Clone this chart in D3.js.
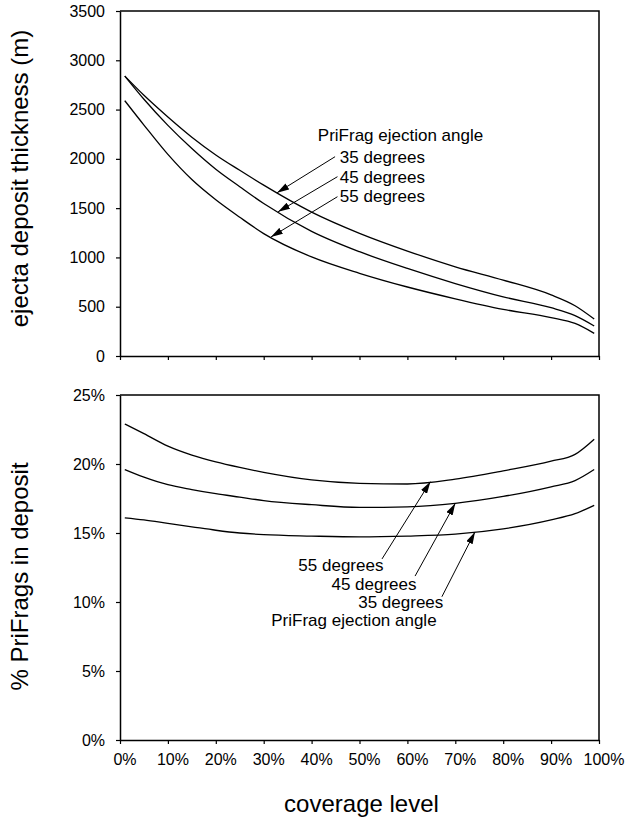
<!DOCTYPE html>
<html>
<head>
<meta charset="utf-8">
<script src="https://cdn.jsdelivr.net/npm/d3@7"></script>
<style>
  html, body { margin: 0; padding: 0; background: #fff; }
  svg { display: block; font-family: "Liberation Sans", Arial, sans-serif; }
</style>
</head>
<body>
<svg id="chart" width="628" height="817"></svg>
<script>
// Coverage levels (% of surface covered) at which both quantities are sampled
const coverage = [1, 5, 10, 15, 20, 25, 30, 40, 50, 60, 70, 80, 90, 95, 99];

// Ejecta deposit thickness (m) for each PriFrag ejection angle
const thickness35 = [2840, 2645, 2425, 2220, 2040, 1884, 1733, 1460, 1245, 1065, 905, 770, 620, 510, 375];
const thickness45 = [2840, 2605, 2340, 2105, 1895, 1718, 1547, 1265, 1058, 888, 735, 600, 490, 410, 305];
const thickness55 = [2590, 2343, 2045, 1790, 1585, 1408, 1242, 1005, 839, 700, 580, 473, 390, 330, 230];

// Share of PriFrags in the deposit (%) for each ejection angle
const share35 = [16.1, 15.95, 15.7, 15.45, 15.2, 15.0, 14.88, 14.78, 14.72, 14.78, 14.92, 15.3, 15.95, 16.4, 17.0];
const share45 = [19.6, 19.05, 18.5, 18.15, 17.85, 17.6, 17.35, 17.05, 16.85, 16.9, 17.15, 17.65, 18.35, 18.8, 19.6];
const share55 = [22.9, 22.2, 21.3, 20.65, 20.15, 19.75, 19.4, 18.85, 18.6, 18.55, 18.9, 19.5, 20.2, 20.7, 21.8];

// Tick values
const xTicks = [0, 10, 20, 30, 40, 50, 60, 70, 80, 90, 100];
const thicknessTicks = [0, 500, 1000, 1500, 2000, 2500, 3000, 3500];
const shareTicks = [0, 5, 10, 15, 20, 25];

const angleLabels = ["35 degrees", "45 degrees", "55 degrees"];
const legendTitle = "PriFrag ejection angle";

// Annotation anchors, in data units of each panel
const topLabelPos = [[45.9, 1958], [45.9, 1755], [45.9, 1562]];
const topTitlePos = [41.3, 2181];
const topArrowFrom = [[44.9, 2022], [45.4, 1819], [45.4, 1616]];
const topArrowTipCoverage = [32.8, 33.0, 31.5];

const bottomLabelPos = [[67.5, 9.57], [61.9, 10.87], [55.0, 12.25]];
const bottomTitlePos = [66.1, 8.26];
const bottomArrowFrom = [[67.2, 10.38], [61.6, 11.88], [54.7, 13.12]];
const bottomArrowTipCoverage = [74.1, 70.0, 64.8];

const svg = d3.select("#chart");
svg.append("rect").attr("width", 628).attr("height", 817).attr("fill", "#fff");

// Arrowhead
svg.append("defs").append("marker")
  .attr("id", "head")
  .attr("viewBox", "0 0 12 7")
  .attr("refX", 12).attr("refY", 3.5)
  .attr("markerWidth", 12).attr("markerHeight", 7)
  .attr("markerUnits", "userSpaceOnUse")
  .attr("orient", "auto")
  .append("path").attr("d", "M0,0 L12,3.5 L0,7 Z").attr("fill", "#000");

const left = 120, right = 599;
const x = d3.scaleLinear().domain([0, 100]).range([left, right]);
const yTop = d3.scaleLinear().domain([0, 3500]).range([356, 11]);
const yBot = d3.scaleLinear().domain([0, 25]).range([740, 395]);

function valueAt(series, c) {
  const i = d3.bisectLeft(coverage, c);
  if (i <= 0) return series[0];
  if (i >= coverage.length) return series[series.length - 1];
  const t = (c - coverage[i - 1]) / (coverage[i] - coverage[i - 1]);
  return series[i - 1] + t * (series[i] - series[i - 1]);
}

function panel(y, ticks, tickFmt, showXLabels, seriesList) {
  const g = svg.append("g");

  // y axis
  const ya = g.append("g").attr("transform", `translate(${left},0)`)
    .call(d3.axisLeft(y).tickValues(ticks).tickFormat(tickFmt).tickSize(4).tickSizeOuter(0).tickPadding(11));
  ya.selectAll("text").attr("font-size", 16).attr("font-family", "Liberation Sans, Arial, sans-serif").attr("fill", "#000");

  // x axis
  const xa = g.append("g").attr("transform", `translate(0,${y.range()[0]})`)
    .call(d3.axisBottom(x).tickValues(xTicks).tickFormat(showXLabels ? d => d + "%" : "").tickSize(4).tickSizeOuter(0).tickPadding(10));
  xa.selectAll("text").attr("font-size", 16).attr("font-family", "Liberation Sans, Arial, sans-serif").attr("fill", "#000").attr("dx", 4.5);

  g.selectAll(".domain").attr("stroke", "#000").attr("stroke-width", 1.5);
  g.selectAll(".tick line").attr("stroke", "#000").attr("stroke-width", 1.2);

  // frame top and right
  g.append("path")
    .attr("d", `M${left},${y.range()[1]} H${right} V${y.range()[0]}`)
    .attr("fill", "none").attr("stroke", "#000").attr("stroke-width", 1.5);

  const line = d3.line().x((d, i) => x(coverage[i])).y(d => y(d)).curve(d3.curveMonotoneX);
  seriesList.forEach(s => {
    g.append("path").datum(s).attr("d", line)
      .attr("fill", "none").attr("stroke", "#000").attr("stroke-width", 1.3);
  });
  return g;
}

const topSeries = [thickness35, thickness45, thickness55];
const botSeries = [share35, share45, share55];

panel(yTop, thicknessTicks, d => d, false, topSeries);
panel(yBot, shareTicks, d => d + "%", true, botSeries);

// Top panel annotations
const ann = svg.append("g").attr("font-size", 17).attr("fill", "#000");
ann.append("text").attr("x", x(topTitlePos[0])).attr("y", yTop(topTitlePos[1])).text(legendTitle);
angleLabels.forEach((lab, i) => {
  ann.append("text").attr("x", x(topLabelPos[i][0])).attr("y", yTop(topLabelPos[i][1])).text(lab);
  const tc = topArrowTipCoverage[i];
  svg.append("line")
    .attr("x1", x(topArrowFrom[i][0])).attr("y1", yTop(topArrowFrom[i][1]))
    .attr("x2", x(tc)).attr("y2", yTop(valueAt(topSeries[i], tc)))
    .attr("stroke", "#000").attr("stroke-width", 1).attr("marker-end", "url(#head)");
});

// Bottom panel annotations
ann.append("text").attr("x", x(bottomTitlePos[0])).attr("y", yBot(bottomTitlePos[1]))
  .attr("text-anchor", "end").text(legendTitle);
angleLabels.forEach((lab, i) => {
  ann.append("text").attr("x", x(bottomLabelPos[i][0])).attr("y", yBot(bottomLabelPos[i][1]))
    .attr("text-anchor", "end").text(lab);
  const tc = bottomArrowTipCoverage[i];
  svg.append("line")
    .attr("x1", x(bottomArrowFrom[i][0])).attr("y1", yBot(bottomArrowFrom[i][1]))
    .attr("x2", x(tc)).attr("y2", yBot(valueAt(botSeries[i], tc)))
    .attr("stroke", "#000").attr("stroke-width", 1).attr("marker-end", "url(#head)");
});

// Axis titles
svg.append("text")
  .attr("transform", `translate(28,${(yTop.range()[0] + yTop.range()[1]) / 2 - 5}) rotate(-90)`)
  .attr("text-anchor", "middle").attr("font-size", 24).attr("fill", "#000")
  .text("ejecta deposit thickness (m)");
svg.append("text")
  .attr("transform", `translate(28,${(yBot.range()[0] + yBot.range()[1]) / 2 + 9}) rotate(-90)`)
  .attr("text-anchor", "middle").attr("font-size", 24).attr("fill", "#000")
  .text("% PriFrags in deposit");
svg.append("text")
  .attr("x", (left + right) / 2 + 2).attr("y", 812)
  .attr("text-anchor", "middle").attr("font-size", 24).attr("fill", "#000")
  .text("coverage level");
</script>
</body>
</html>
